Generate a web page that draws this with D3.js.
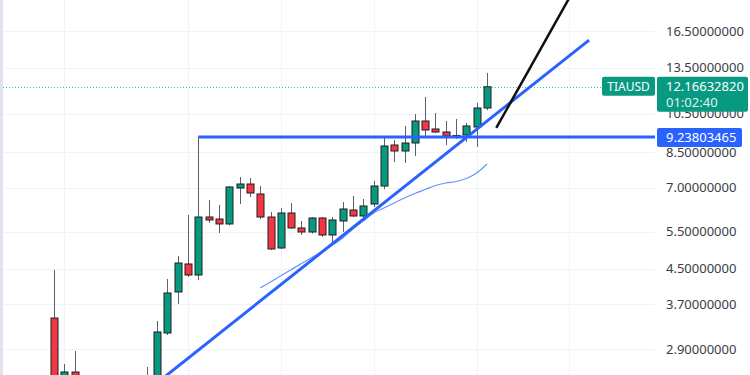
<!DOCTYPE html>
<html>
<head>
<meta charset="utf-8">
<script src="https://cdn.jsdelivr.net/npm/d3@7/dist/d3.min.js"></script>
<style>
  body { margin: 0; background: #fff; }
  svg { display: block; font-family: "Noto Sans", sans-serif; }
</style>
</head>
<body>
<div id="chart"></div>
<script>
// candle data, one entry per bar (bars 3-9 sit below the visible price range)
var opens  = [3.435, 2.46, 2.557, 2.47, 2.30, 2.35, 2.28, 2.33, 2.40, 2.36,
              2.48, 3.165, 3.961, 4.616, 4.346, 5.968, 5.903, 5.745, 6.993, 7.148,
              6.768, 5.968, 5.038, 6.100, 5.620, 5.498, 5.935, 5.409, 5.839, 6.201,
              6.001, 6.408, 7.070, 8.846, 8.561, 8.944, 10.087, 9.656, 9.499, 9.293,
              9.344, 9.762, 10.831];
var highs  = [4.467, 2.672, 2.868, 2.50, 2.42, 2.45, 2.40, 2.46, 2.48, 2.628,
              3.380, 4.252, 4.822, 6.034, 9.238, 6.550, 6.373, 7.070, 7.427, 7.387,
              7.070, 6.134, 6.269, 6.443, 5.839, 5.960, 5.970, 5.970, 6.478, 6.694,
              6.585, 7.267, 9.192, 9.092, 9.816, 10.481, 11.502, 10.539, 10.087, 10.199,
              9.978, 11.131, 13.115];
var lows   = [2.40, 2.40, 2.38, 2.25, 2.20, 2.22, 2.15, 2.25, 2.30, 2.32,
              2.45, 3.130, 3.709, 4.300, 4.229, 5.776, 5.468, 5.700, 6.408, 6.658,
              5.900, 4.980, 5.010, 5.600, 5.409, 5.450, 5.350, 5.121, 5.498, 5.970,
              5.935, 6.303, 6.950, 8.062, 8.018, 8.330, 9.242, 9.447, 8.846, 9.142,
              8.993, 8.752, 10.700];
var closes = [2.46, 2.557, 2.47, 2.30, 2.35, 2.28, 2.33, 2.40, 2.36, 2.48,
              3.183, 3.939, 4.641, 4.346, 5.968, 5.871, 5.745, 7.032, 7.148, 6.804,
              5.968, 5.011, 6.100, 5.620, 5.498, 5.935, 5.409, 5.871, 6.235, 6.001,
              6.338, 7.070, 8.798, 8.561, 8.944, 10.087, 9.603, 9.499, 9.293, 9.320,
              9.816, 10.831, 12.166];

// moving average, starts at bar 20
var maStart = 20;
var maValues = [4.048, 4.185, 4.327, 4.474, 4.626, 4.782, 4.945, 5.112, 5.320, 5.589,
                5.839, 6.100, 6.269, 6.443, 6.622, 6.787, 6.937, 7.091, 7.188, 7.247,
                7.366, 7.591, 7.974];

var priceTicks = [16.5, 13.5, 10.5, 8.5, 7.0, 5.5, 4.5, 3.7, 2.9];
var timeGridBars = [1, 13, 22, 31, 41, 50];

var symbol = 'TIAUSD';
var lastPrice = 12.1663282;
var countdown = '01:02:40';
var levelPrice = 9.23803465;
var levelStartBar = 14;

// drawings: [bar index, price]
var trendLine = [[10, 2.41], [51.9, 15.7]];
var arrowLine = [[42.9, 9.71], [51, 21.9]];

var width = 750, height = 375;
var plotRight = 655;

var svg = d3.select('#chart').append('svg')
    .attr('width', width)
    .attr('height', height);

var x = d3.scaleLinear().domain([0, 42]).range([54, 487]);
var y = d3.scaleLog().domain([16.5, 2.9]).range([31, 349]);

svg.append('defs').append('clipPath').attr('id', 'plotclip')
    .append('rect').attr('x', 0).attr('y', 0).attr('width', plotRight).attr('height', height);

// left edge strip
svg.append('rect').attr('x', 0).attr('y', 0).attr('width', 3).attr('height', height).attr('fill', '#e0e3eb');

var plot = svg.append('g').attr('clip-path', 'url(#plotclip)');

// grid
plot.selectAll('.hgrid').data(priceTicks).enter().append('line')
    .attr('x1', 3).attr('x2', plotRight)
    .attr('y1', function(d) { return Math.round(y(d)) + 0.5; })
    .attr('y2', function(d) { return Math.round(y(d)) + 0.5; })
    .attr('stroke', '#f0f3fa').attr('stroke-width', 1);

plot.selectAll('.vgrid').data(timeGridBars).enter().append('line')
    .attr('x1', function(d) { return Math.round(x(d)) + 0.5; })
    .attr('x2', function(d) { return Math.round(x(d)) + 0.5; })
    .attr('y1', 0).attr('y2', height)
    .attr('stroke', '#f0f3fa').attr('stroke-width', 1);

// last price dotted line
plot.append('line')
    .attr('x1', 3).attr('x2', plotRight)
    .attr('y1', Math.round(y(lastPrice)) + 0.5).attr('y2', Math.round(y(lastPrice)) + 0.5)
    .attr('stroke', '#3fb8a2').attr('stroke-width', 1).attr('stroke-dasharray', '1,2');

// candles
var bars = d3.range(opens.length).map(function(i) {
    return { i: i, o: opens[i], h: highs[i], l: lows[i], c: closes[i] };
});

var candle = plot.selectAll('.candle').data(bars).enter().append('g');

candle.append('line')
    .attr('x1', function(d) { return Math.round(x(d.i)) + 0.5; })
    .attr('x2', function(d) { return Math.round(x(d.i)) + 0.5; })
    .attr('y1', function(d) { return y(d.h); })
    .attr('y2', function(d) { return y(d.l); })
    .attr('stroke', '#5d606b').attr('stroke-width', 1);

candle.append('rect')
    .attr('x', function(d) { return Math.round(x(d.i)) - 3; })
    .attr('y', function(d) { return y(Math.max(d.o, d.c)); })
    .attr('width', 7)
    .attr('height', function(d) { return Math.max(1, Math.abs(y(d.o) - y(d.c))); })
    .attr('fill', function(d) { return d.c >= d.o ? '#089981' : '#f23645'; })
    .attr('stroke', '#1e1e1e').attr('stroke-width', 1);

// moving average
var maLine = d3.line()
    .x(function(d, k) { return x(maStart + k); })
    .y(function(d) { return y(d); })
    .curve(d3.curveMonotoneX);

plot.append('path').datum(maValues)
    .attr('d', maLine)
    .attr('fill', 'none').attr('stroke', '#2962ff').attr('stroke-opacity', 0.7).attr('stroke-width', 1.2);

// drawings
var seg = d3.line().x(function(d) { return x(d[0]); }).y(function(d) { return y(d[1]); });

plot.append('path').datum(trendLine).attr('d', seg)
    .attr('fill', 'none').attr('stroke', '#2962ff').attr('stroke-width', 3);

plot.append('line')
    .attr('x1', x(levelStartBar)).attr('x2', plotRight)
    .attr('y1', y(levelPrice)).attr('y2', y(levelPrice))
    .attr('stroke', '#2962ff').attr('stroke-width', 3);

plot.append('path').datum(arrowLine).attr('d', seg)
    .attr('fill', 'none').attr('stroke', '#111').attr('stroke-width', 2.5);

// price axis labels
var fmt = d3.format('.8f');
svg.selectAll('.tick').data(priceTicks).enter().append('text')
    .attr('x', 666)
    .attr('y', function(d) { return y(d); })
    .attr('dy', '0.35em')
    .attr('font-size', 13)
    .attr('fill', '#3a3d45')
    .text(fmt);

// last price label
var lp = y(lastPrice);
svg.append('rect').attr('x', 657).attr('y', lp - 10).attr('width', 91).attr('height', 35)
    .attr('rx', 2).attr('fill', '#089981');
svg.append('text').attr('x', 666).attr('y', lp).attr('dy', '0.35em')
    .attr('font-size', 13).attr('fill', '#fff').text(fmt(lastPrice));
svg.append('text').attr('x', 666).attr('y', lp + 16).attr('dy', '0.35em')
    .attr('font-size', 13).attr('fill', '#dff3ee').text(countdown);

svg.append('rect').attr('x', 602).attr('y', lp - 10).attr('width', 53).attr('height', 19)
    .attr('rx', 2).attr('fill', '#089981');
svg.append('text').attr('x', 628.5).attr('y', lp).attr('dy', '0.35em')
    .attr('text-anchor', 'middle')
    .attr('font-size', 12).attr('fill', '#fff').text(symbol);

// level label
var lv = y(levelPrice);
svg.append('rect').attr('x', 657).attr('y', lv - 9).attr('width', 85).attr('height', 19)
    .attr('rx', 2).attr('fill', '#2962ff');
svg.append('text').attr('x', 666).attr('y', lv).attr('dy', '0.35em')
    .attr('font-size', 13).attr('fill', '#fff').text(fmt(levelPrice));
</script>
</body>
</html>
